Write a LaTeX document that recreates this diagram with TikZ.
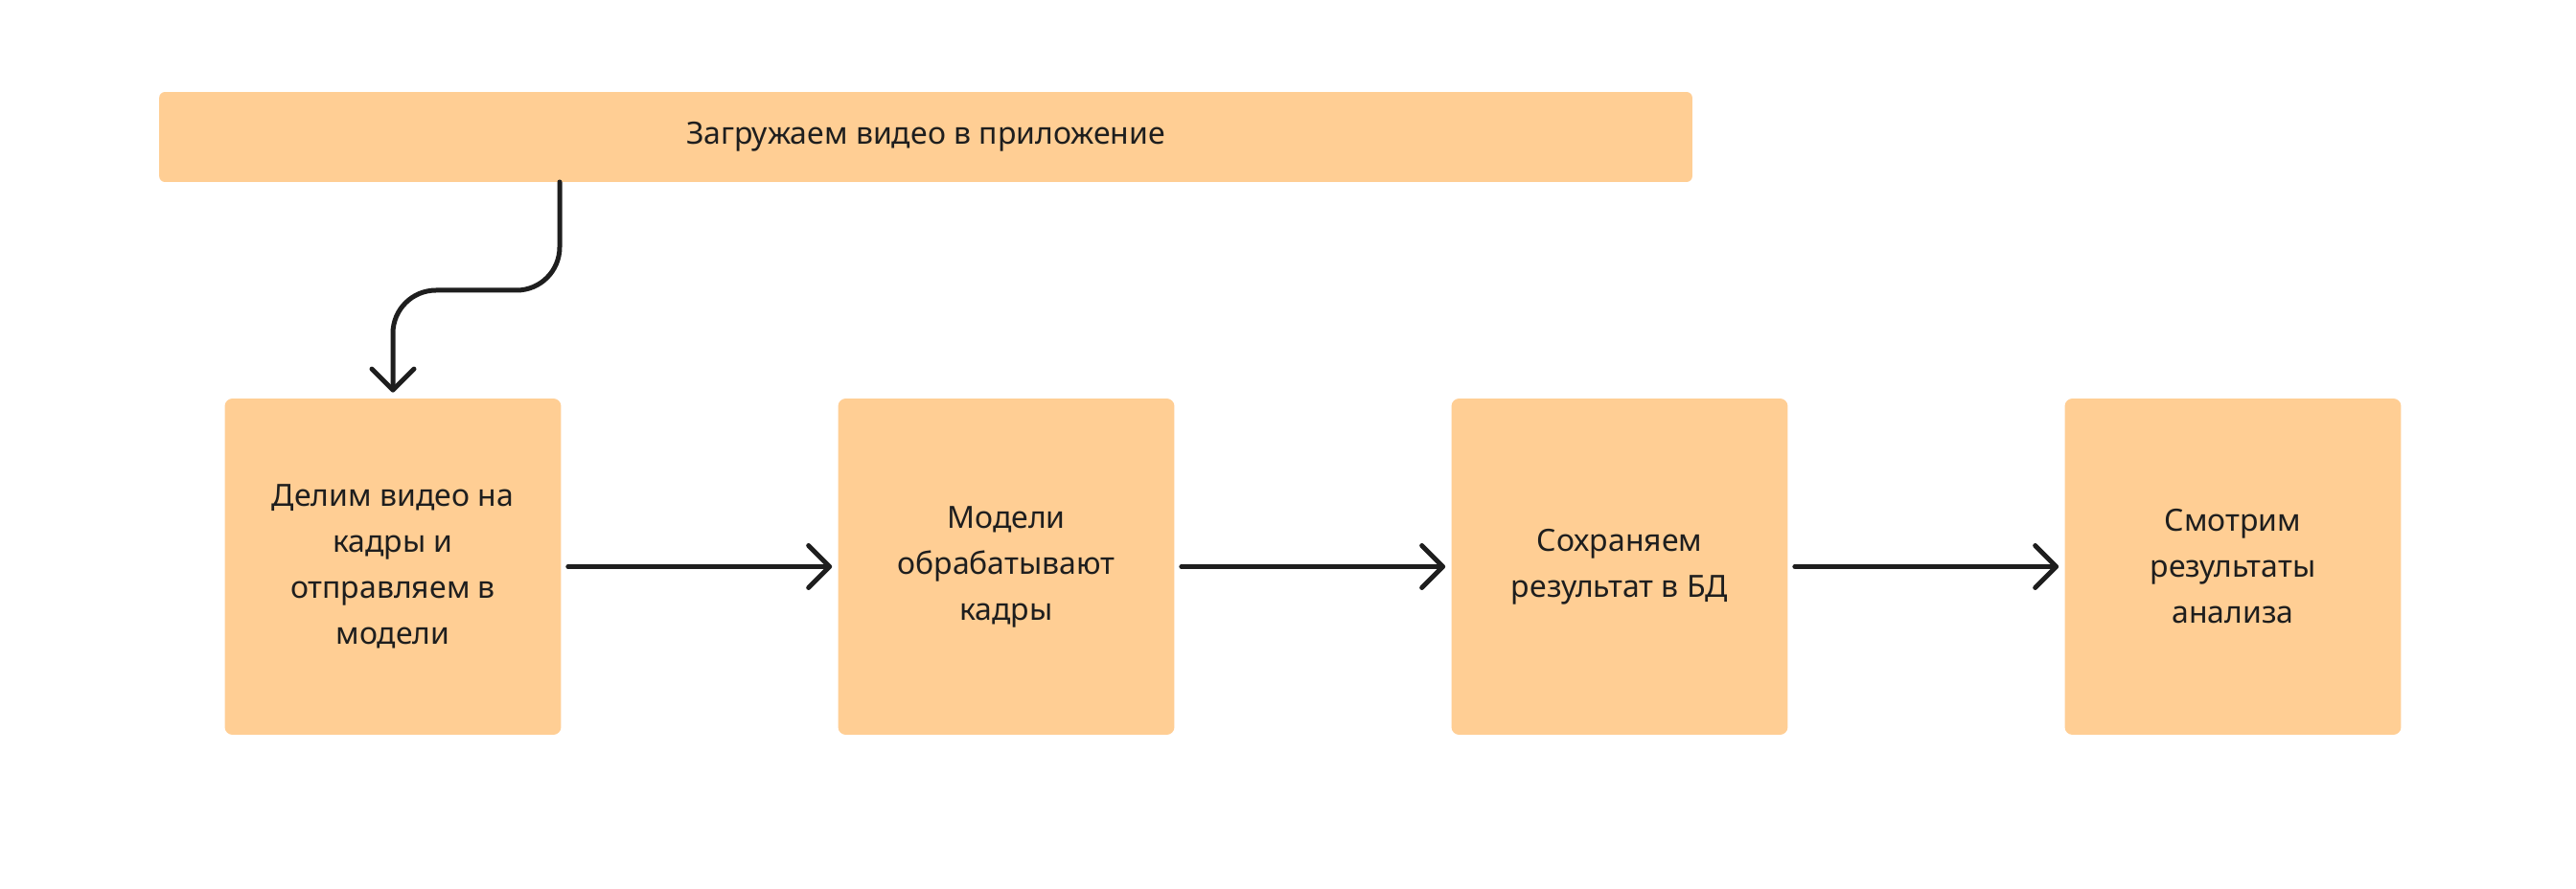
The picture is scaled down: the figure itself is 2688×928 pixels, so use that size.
\documentclass[tikz,border=0pt]{standalone}
\usepackage{fontspec}
\setmainfont{Noto Sans}
\usetikzlibrary{arrows.meta}
\definecolor{boxfill}{HTML}{FFCE94}
\definecolor{ink}{HTML}{1E1E1E}

\begin{document}
\begin{tikzpicture}[x=0.02cm,y=-0.02cm,
  stepbox/.style={fill=boxfill,rounded corners=0.16cm,minimum width=7.02cm,minimum height=7.02cm,
    inner sep=0,align=center,text=ink,font=\fontsize{18.2}{27.3}\selectfont},
  topbox/.style={fill=boxfill,rounded corners=0.12cm,minimum width=32cm,minimum height=1.88cm,
    inner sep=0,text=ink,font=\fontsize{18.2}{27.3}\selectfont},
  flow/.style={draw=ink,line width=0.1cm,line cap=round,
    -{Straight Barb[length=4.4mm,width=8.8mm,round]}}]
\fill[white] (0,0) rectangle (2688,928);
\useasboundingbox (0,0) rectangle (2688,928);
\node[topbox] (upload) at (966,143) {Загружаем видео в приложение};
\node[stepbox] (split) at (410,591.5) {Делим видео на\\кадры и\\отправляем в\\модели};
\node[stepbox] (models) at (1050,591.5) {Модели\\обрабатывают\\кадры};
\node[stepbox] (save) at (1690,591.5) {Сохраняем\\результат в БД};
\node[stepbox] (view) at (2330,591.5) {Смотрим\\результаты\\анализа};
\coordinate (start) at (584,190);
\draw[flow,rounded corners=0.9cm,shorten >=0.12cm] (start) -- (584,303) -- (410,303) -- (split.north);
\draw[flow,shorten <=0.14cm,shorten >=0.12cm] (split) -- (models);
\draw[flow,shorten <=0.14cm,shorten >=0.12cm] (models) -- (save);
\draw[flow,shorten <=0.14cm,shorten >=0.12cm] (save) -- (view);
\end{tikzpicture}
\end{document}
